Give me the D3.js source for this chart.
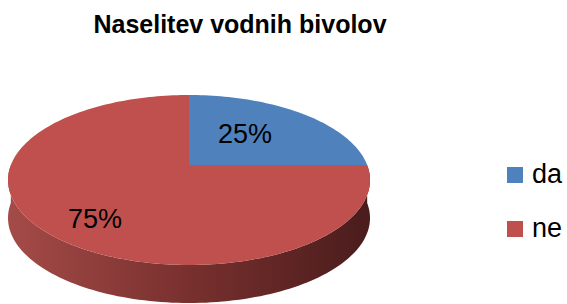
<!DOCTYPE html>
<html><head><meta charset="utf-8">
<script src="https://cdn.jsdelivr.net/npm/d3@7"></script>
<style>body{margin:0;background:#fff}svg{display:block}</style>
</head><body>
<script>
const categories = ["da", "ne"];
const values = [25, 75];
const colors = ["#4F81BD", "#C0504D"];
const title = "Naselitev vodnih bivolov";

(function () {
const W = 567, H = 304;
const svg = d3.select("body").append("svg").attr("width", W).attr("height", H);

const cx = 189, cy = 180, rx = 181, ry = 85, depth = 38, k = -0.176;
// projective map of unit disk (clockwise angle from top) onto the tilted ellipse
function proj(a, r) {
  const x = r * Math.sin(a), y = -r * Math.cos(a);
  const w = 1 + k * y;
  return [cx + rx * x * Math.sqrt(1 - k * k) / w, cy + ry * (y + k) / w];
}
const pie = d3.pie().sort(null).value(d => d)(values);

const defs = svg.append("defs");
const grad = defs.append("linearGradient").attr("id", "side").attr("x1", "0").attr("x2", "1").attr("y1", "0").attr("y2", "0");
grad.append("stop").attr("offset", "0%").attr("stop-color", "#a44b48");
grad.append("stop").attr("offset", "50%").attr("stop-color", "#78302e");
grad.append("stop").attr("offset", "100%").attr("stop-color", "#4a1c1c");

// side wall (front half) for red slice
const N = 120;
const rim = [];
for (let i = 0; i <= N; i++) { const a = Math.PI / 2 + Math.PI * i / N; rim.push(proj(a, 1)); }
const lower = rim.slice().reverse().map(p => [p[0], p[1] + depth]);
svg.append("path").attr("d", d3.line()(rim.concat(lower)) + "Z").attr("fill", "url(#side)");

// top faces
pie.forEach((s, i) => {
  const pts = [proj(0, 0)];
  const n = Math.max(8, Math.round((s.endAngle - s.startAngle) / (2 * Math.PI) * 240));
  for (let j = 0; j <= n; j++) pts.push(proj(s.startAngle + (s.endAngle - s.startAngle) * j / n, 1));
  svg.append("path").attr("d", d3.line()(pts) + "Z").attr("fill", colors[i]);
});

// labels
const labelPos = [[245, 143], [95, 228]];
pie.forEach((s, i) => {
  svg.append("text").attr("x", labelPos[i][0]).attr("y", labelPos[i][1])
    .attr("text-anchor", "middle").attr("font-family", "Liberation Sans, Arial, sans-serif")
    .attr("font-size", 27).attr("fill", "#000").text(values[i] + "%");
});

// title
svg.append("text").attr("x", 240).attr("y", 33).attr("text-anchor", "middle")
  .attr("font-family", "Liberation Sans, Arial, sans-serif").attr("font-weight", "bold")
  .attr("font-size", 25).attr("fill", "#000").text(title);

// legend
const leg = svg.append("g");
categories.forEach((c, i) => {
  const y = 167 + i * 54;
  leg.append("rect").attr("x", 507).attr("y", y).attr("width", 16).attr("height", 16).attr("fill", colors[i]);
  leg.append("text").attr("x", 532).attr("y", y + 16).attr("font-family", "Liberation Sans, Arial, sans-serif")
    .attr("font-size", 27).attr("fill", "#000").text(c);
});
})();
</script>
</body></html>
